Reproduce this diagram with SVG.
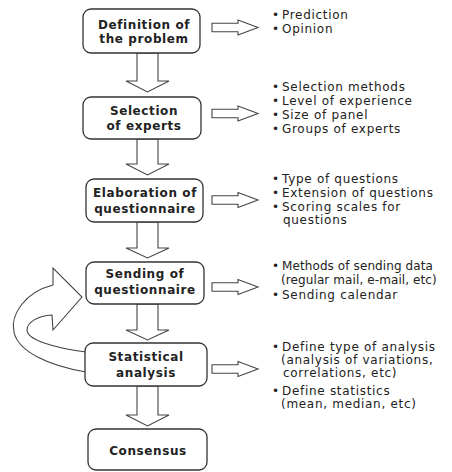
<svg xmlns="http://www.w3.org/2000/svg" width="452" height="472" viewBox="0 0 452 472">
<style>
.box{fill:#fff;stroke:#333;stroke-width:1.3}
.arr{fill:#fff;stroke:#444;stroke-width:1.1;stroke-linejoin:miter}
.t{font-family:"DejaVu Sans","Liberation Sans",sans-serif;font-size:12px;font-weight:bold;fill:#222;text-anchor:middle;letter-spacing:0.6px}
.l{font-family:"DejaVu Sans","Liberation Sans",sans-serif;font-size:12px;fill:#222;letter-spacing:0.7px}
.n{letter-spacing:0.1px}
</style>
<defs>
<path id="ra" d="M0,-4.2 H26 V-7.5 L46,0 L26,7.5 V4.2 H0 Z"/>
</defs>
<rect width="452" height="472" fill="#fff"/>
<g id="connectors">
<path class="arr" d="M86,372 C50,366 18,352 14,332 C10,315 25,292 53,285 L53,268 L82,297 L53,330 L52,315 C38,316 27,322 27,330 C27,340 55,348 86,352"/>
<path class="arr" d="M137,53 V81 H126 L147.5,92 L169,81 H158 V53 Z"/>
<path class="arr" d="M137,139 V164 H126 L147.5,175 L169,164 H158 V139 Z"/>
<path class="arr" d="M137,222 V248 H126 L147.5,258 L169,248 H158 V222 Z"/>
<path class="arr" d="M137,304 V330 H126 L147.5,340 L169,330 H158 V304 Z"/>
<path class="arr" d="M137,386 V415 H126 L147.5,426 L169,415 H158 V386 Z"/>
<use href="#ra" class="arr" x="212" y="27.5"/>
<use href="#ra" class="arr" x="212" y="113.5"/>
<use href="#ra" class="arr" x="212" y="200"/>
<use href="#ra" class="arr" x="212" y="287"/>
<use href="#ra" class="arr" x="212" y="369"/>
</g>
<g id="n1"><rect class="box" x="83" y="9" width="117" height="44" rx="8"/>
<text class="t" x="144" y="29">Definition of</text><text class="t" x="144" y="43">the problem</text></g>
<g id="n2"><rect class="box" x="83" y="97" width="118" height="42" rx="8"/>
<text class="t" x="144" y="115">Selection</text><text class="t" x="144" y="130">of experts</text></g>
<g id="n3"><rect class="box" x="86" y="179" width="117" height="43" rx="8"/>
<text class="t" x="145" y="197">Elaboration of</text><text class="t" x="145" y="213">questionnaire</text></g>
<g id="n4"><rect class="box" x="86" y="262" width="118" height="42" rx="8"/>
<text class="t" x="145" y="278">Sending of</text><text class="t" x="145" y="294">questionnaire</text></g>
<g id="n5"><rect class="box" x="85" y="343" width="122" height="43" rx="8"/>
<text class="t" x="146" y="361">Statistical</text><text class="t" x="146" y="377">analysis</text></g>
<g id="n6"><rect class="box" x="88" y="429" width="119" height="41" rx="8"/>
<text class="t" x="148" y="455">Consensus</text></g>
<g id="d1">
<text class="l" x="272" y="19">•</text><text class="l" x="282" y="19">Prediction</text>
<text class="l" x="272" y="33">•</text><text class="l" x="282" y="33">Opinion</text></g>
<g id="d2">
<text class="l" x="272" y="91">•</text><text class="l" x="282" y="91">Selection methods</text>
<text class="l" x="272" y="105">•</text><text class="l" x="282" y="105">Level of experience</text>
<text class="l" x="272" y="119">•</text><text class="l" x="282" y="119">Size of panel</text>
<text class="l" x="272" y="133">•</text><text class="l" x="282" y="133">Groups of experts</text></g>
<g id="d3">
<text class="l" x="272" y="183">•</text><text class="l" x="282" y="183">Type of questions</text>
<text class="l" x="272" y="197">•</text><text class="l" x="282" y="197">Extension of questions</text>
<text class="l" x="272" y="211">•</text><text class="l" x="282" y="211">Scoring scales for</text>
<text class="l" x="283" y="224">questions</text></g>
<g id="d4">
<text class="l" x="272" y="270">•</text><text class="l n" x="282" y="270">Methods of sending data</text>
<text class="l n" x="281" y="284">(regular mail, e-mail, etc)</text>
<text class="l" x="272" y="299">•</text><text class="l" x="282" y="299">Sending calendar</text></g>
<g id="d5">
<text class="l" x="272" y="351">•</text><text class="l" x="282" y="351">Define type of analysis</text>
<text class="l" x="281" y="364">(analysis of variations,</text>
<text class="l" x="283" y="377">correlations, etc)</text>
<text class="l" x="272" y="395">•</text><text class="l" x="282" y="395">Define statistics</text>
<text class="l" x="281" y="408">(mean, median, etc)</text></g>
</svg>
